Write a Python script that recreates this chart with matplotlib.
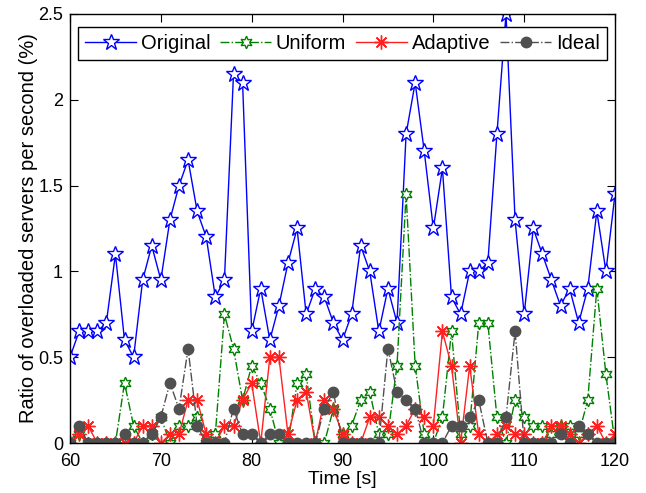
import numpy as np
import matplotlib
matplotlib.use('Agg')
import matplotlib.pyplot as plt

plt.rcParams['font.family'] = ['Liberation Sans', 'DejaVu Sans']

# Tiempo [s]
t = np.arange(60, 121)

original = [0.5, 0.65, 0.65, 0.65, 0.7, 1.1, 0.6, 0.5, 0.95, 1.15,
            0.95, 1.3, 1.5, 1.65, 1.35, 1.2, 0.85, 0.95, 2.15, 2.1,
            0.65, 0.9, 0.6, 0.8, 1.05, 1.25, 0.75, 0.9, 0.85, 0.7,
            0.6, 0.75, 1.15, 1.0, 0.65, 0.9, 0.7, 1.8, 2.1, 1.7,
            1.25, 1.6, 0.85, 0.75, 1.0, 1.0, 1.05, 1.8, 2.5, 1.3,
            0.75, 1.25, 1.1, 0.95, 0.8, 0.9, 0.7, 0.9, 1.35, 1.0,
            1.45]

uniform = [0, 0.05, 0, 0, 0, 0, 0.35, 0.1, 0, 0.05,
           0.15, 0, 0.1, 0.1, 0.15, 0, 0.05, 0.75, 0.55, 0.25,
           0.45, 0.35, 0.2, 0, 0, 0.35, 0.4, 0, 0, 0.2,
           0.05, 0.1, 0.25, 0.3, 0.05, 0.05, 0.45, 1.45, 0.45, 0.05,
           0, 0.15, 0.65, 0.05, 0.1, 0.7, 0.7, 0.15, 0, 0.25,
           0.15, 0.1, 0.1, 0.05, 0.1, 0.1, 0.05, 0.25, 0.9, 0.4,
           0]

adaptive = [0, 0.05, 0.1, 0, 0, 0, 0, 0, 0.1, 0.1,
            0, 0.05, 0.05, 0.25, 0.25, 0.05, 0, 0.1, 0.1, 0.25,
            0.35, 0, 0.5, 0.5, 0.05, 0.25, 0.3, 0, 0.25, 0.2,
            0.05, 0, 0, 0.15, 0.15, 0.1, 0.05, 0.1, 0.2, 0.15,
            0.1, 0.65, 0.45, 0, 0.45, 0.05, 0, 0.05, 0.1, 0.05,
            0.05, 0, 0, 0.1, 0.1, 0.05, 0, 0.05, 0.1, 0,
            0.05]

ideal = [0, 0.1, 0, 0, 0, 0, 0.05, 0, 0, 0.05,
         0.15, 0.35, 0.2, 0.55, 0.1, 0, 0, 0, 0.2, 0.05,
         0.05, 0, 0.05, 0.05, 0, 0, 0, 0, 0.2, 0.3,
         0, 0, 0, 0, 0, 0.55, 0.3, 0.25, 0.2, 0,
         0, 0, 0.1, 0.1, 0.15, 0.25, 0, 0, 0.15, 0.65,
         0, 0, 0, 0, 0.05, 0, 0.1, 0.05, 0, 0,
         0]

fig = plt.figure(figsize=(6.46, 4.93), dpi=100)
ax = fig.add_axes([70/646, 50/493, 545/646, 429/493])

ax.plot(t, original, '-', color='#0000ff', lw=1, marker='*', ms=12,
        mfc='white', mec='#0000ff', mew=1, label='Original')
ax.plot(t, uniform, '-.', color='#008000', lw=1, marker=(6, 1, 0), ms=9,
        mfc='white', mec='#008000', mew=1, label='Uniform')
ax.plot(t, adaptive, '-', color='#ff2020', lw=1, marker=(8, 2, 0), ms=10,
        mec='#ff2020', mew=1, label='Adaptive')
ax.plot(t, ideal, '-.', color='#505050', lw=1, marker='o', ms=7.5,
        mfc='#505050', mec='#505050', label='Ideal')

ax.set_xlim(60, 120)
ax.set_ylim(0, 2.5)
ax.set_xticks(range(60, 121, 10))
ax.set_yticks([0, 0.5, 1, 1.5, 2, 2.5])
ax.set_yticklabels(['0', '0.5', '1', '1.5', '2', '2.5'])
ax.tick_params(direction='in', top=True, right=True, length=6, labelsize=13)
ax.tick_params(axis='x', pad=7)
ax.tick_params(axis='y', pad=5)
for s in ax.spines.values():
    s.set_linewidth(1)

ax.set_xlabel('Time [s]', fontsize=14, labelpad=1)
ax.set_ylabel('Ratio of overloaded servers per second (%)', fontsize=14.5, labelpad=0)

leg = ax.legend(loc='upper center', ncol=4, fontsize=14.5, frameon=True, fancybox=False,
                edgecolor='black', framealpha=1, borderpad=0.35, handlelength=2.5,
                columnspacing=0.5, handletextpad=0.25, borderaxespad=0,
                bbox_to_anchor=(0.5, 1 - 13/429))
leg.get_frame().set_linewidth(1)

plt.savefig('out.png', dpi=100)
